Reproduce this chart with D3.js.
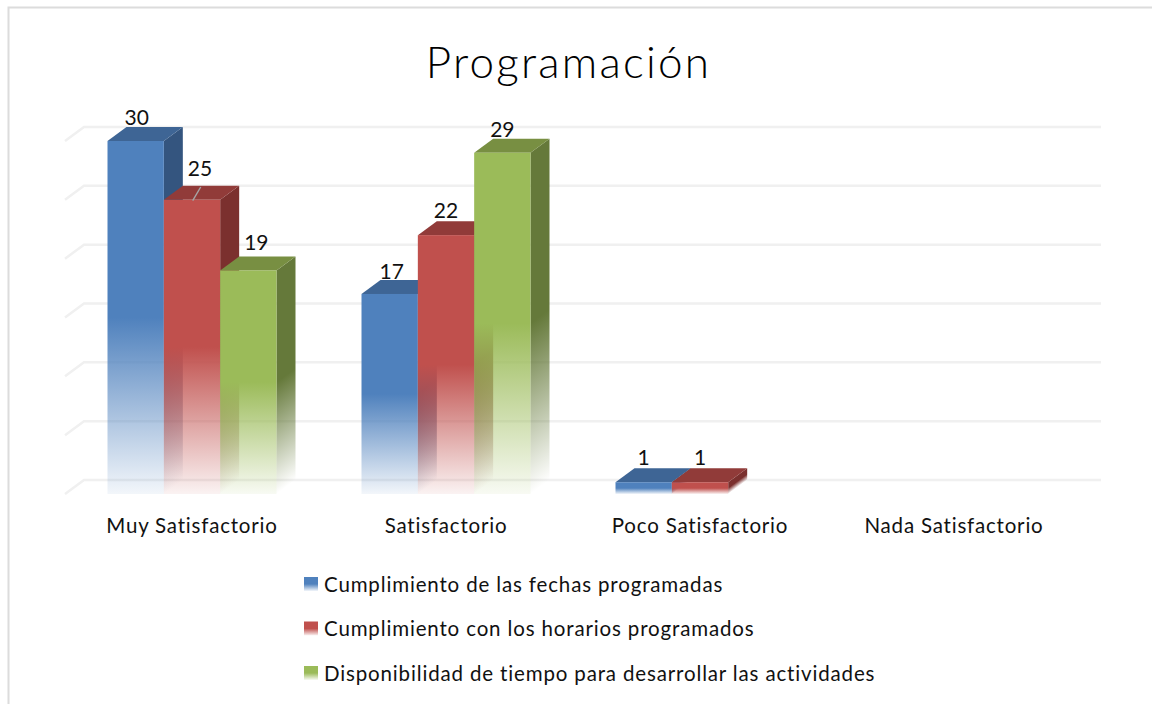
<!DOCTYPE html>
<html>
<head>
<meta charset="utf-8">
<title>Programación</title>
<script src="https://cdn.jsdelivr.net/npm/d3@7"></script>
<style>
  html, body { margin: 0; padding: 0; background: #fff; }
  svg { display: block; }
  text { font-family: Lato, "Open Sans", sans-serif; fill: #111; }
  .title { font-size: 44px; font-weight: 300; letter-spacing: 2.25px; fill: #000; }
  .cat-axis text { font-size: 20.5px; letter-spacing: 0.8px; }
  .label { font-size: 21px; }
  .legend-text { font-size: 20.5px; letter-spacing: 0.85px; }
</style>
</head>
<body>
<div id="chart"></div>
<script>
// ── DATA ─────────────────────────────────────────────────────────────────────
const titleText  = 'Programación';
const categories = ['Muy Satisfactorio', 'Satisfactorio', 'Poco Satisfactorio', 'Nada Satisfactorio'];
const seriesNames = [
  'Cumplimiento de las fechas programadas',
  'Cumplimiento con los horarios programados',
  'Disponibilidad de tiempo para desarrollar las actividades'
];
const fechas         = [30, 17, 1, null];
const horarios       = [25, 22, 1, null];
const disponibilidad = [19, 29, null, null];
const yTicks = [0, 5, 10, 15, 20, 25, 30];

// ── DIMENSIONS ───────────────────────────────────────────────────────────────
const W = 1152, H = 704;
const depthX = 19, depthY = 14;
const skew = Math.atan(depthY / depthX) * 180 / Math.PI;

// front, side, top
const palette = [
  { front: '#4f81bd', side: '#34557f', top: '#3e6595' },
  { front: '#c0504d', side: '#7b302e', top: '#913b39' },
  { front: '#9bbb59', side: '#65793a', top: '#788f42' }
];

const svg = d3.select('#chart').append('svg')
  .attr('width', W)
  .attr('height', H);

// ── SCALES ───────────────────────────────────────────────────────────────────
const x0 = d3.scaleBand().domain(categories).range([65, 1081]).paddingInner(0).paddingOuter(0);
const x1 = d3.scaleBand().domain(d3.range(3)).range([42.5, 211.5]);
const y  = d3.scaleLinear().domain([0, 30]).range([494, 141]);

// ── GRADIENTS ────────────────────────────────────────────────────────────────
const defs = svg.append('defs');
palette.forEach((c, i) => {
  [['front', c.front, 0.07], ['side', c.side, 0]].forEach(([name, col, end]) => {
    const g = defs.append('linearGradient')
      .attr('id', `${name}-${i}`)
      .attr('x1', 0).attr('y1', 0).attr('x2', 0).attr('y2', 1);
    g.append('stop').attr('offset', '0').attr('stop-color', col).attr('stop-opacity', 1);
    g.append('stop').attr('offset', '0.5').attr('stop-color', col).attr('stop-opacity', 1);
    g.append('stop').attr('offset', '1').attr('stop-color', col).attr('stop-opacity', end);
  });
});

// ── FRAME ────────────────────────────────────────────────────────────────────
svg.append('path')
  .attr('d', `M8.5,${H} V7.5 H${W}`)
  .attr('fill', 'none')
  .attr('stroke', '#dcdcdc')
  .attr('stroke-width', 2);

// ── TITLE ────────────────────────────────────────────────────────────────────
svg.append('text')
  .attr('class', 'title')
  .attr('x', 568.5)
  .attr('y', 78)
  .attr('text-anchor', 'middle')
  .text(titleText);

// ── GRIDLINES (wall + side) ──────────────────────────────────────────────────
svg.append('g').selectAll('path')
  .data(yTicks)
  .join('path')
    .attr('d', d => `M65,${y(d)} L${65 + depthX},${y(d) - depthY} H1101`)
    .attr('fill', 'none')
    .attr('stroke', '#f0f0f0')
    .attr('stroke-width', 2.5);

// ── BARS ─────────────────────────────────────────────────────────────────────
const allSeries = [fechas, horarios, disponibilidad];
const barsG = svg.append('g');

categories.forEach((cat, ci) => {
  allSeries.forEach((values, si) => {
    const v = values[ci];
    if (v == null) return;
    const left = x0(cat) + x1(si);
    const w = x1.bandwidth();
    const top = y(v);
    const h = y(0) - top;
    const g = barsG.append('g');

    // side face, skewed so the fade follows the depth direction
    g.append('rect')
      .attr('transform', `translate(${left + w},${top}) skewY(${-skew})`)
      .attr('width', depthX)
      .attr('height', h)
      .attr('fill', `url(#side-${si})`);

    g.append('path')
      .attr('d', `M${left},${top} l${depthX},${-depthY} h${w} l${-depthX},${depthY} Z`)
      .attr('fill', palette[si].top);

    g.append('rect')
      .attr('x', left)
      .attr('y', top)
      .attr('width', w)
      .attr('height', h)
      .attr('fill', `url(#front-${si})`);
  });
});

// ── DATA LABELS ──────────────────────────────────────────────────────────────
// hand placed in the original, nudges are series/category -> [dx, dy]
const nudges = {
  '0-0': [1, -16], '1-0': [8, -24], '2-0': [8, -20],
  '0-1': [2, -15], '1-1': [0, -17], '2-1': [0, -16],
  '0-2': [0, -17], '1-2': [0, -17]
};
const labelsG = svg.append('g');
categories.forEach((cat, ci) => {
  allSeries.forEach((values, si) => {
    const v = values[ci];
    if (v == null) return;
    const [dx, dy] = nudges[`${si}-${ci}`];
    labelsG.append('text')
      .attr('class', 'label')
      .attr('x', x0(cat) + x1(si) + x1.bandwidth() / 2 + dx)
      .attr('y', y(v) + dy)
      .attr('text-anchor', 'middle')
      .text(v);
  });
});

// leader line on the 25
svg.append('line')
  .attr('x1', 200.7).attr('y1', 187)
  .attr('x2', 192.7).attr('y2', 200.7)
  .attr('stroke', '#a6a6a6')
  .attr('stroke-width', 1.4);

// ── CATEGORY AXIS ────────────────────────────────────────────────────────────
const xAxisG = svg.append('g')
  .attr('class', 'cat-axis')
  .attr('transform', 'translate(0,518)')
  .call(d3.axisBottom(x0).tickSize(0).tickPadding(0));
xAxisG.select('.domain').remove();
xAxisG.selectAll('text')
  .attr('font-family', null)
  .attr('dy', '0.35em')
  .attr('y', 8);

// ── LEGEND ───────────────────────────────────────────────────────────────────
const legendY = d3.scalePoint().domain(seriesNames).range([584.5, 673.5]);
const legend = svg.append('g').selectAll('g')
  .data(seriesNames)
  .join('g')
    .attr('transform', d => `translate(304,${legendY(d)})`);

legend.append('rect')
  .attr('y', -7.5)
  .attr('width', 14)
  .attr('height', 14)
  .attr('fill', (d, i) => `url(#front-${i})`);

legend.append('text')
  .attr('class', 'legend-text')
  .attr('x', 20)
  .attr('dy', '0.35em')
  .text(d => d);
</script>
</body>
</html>
